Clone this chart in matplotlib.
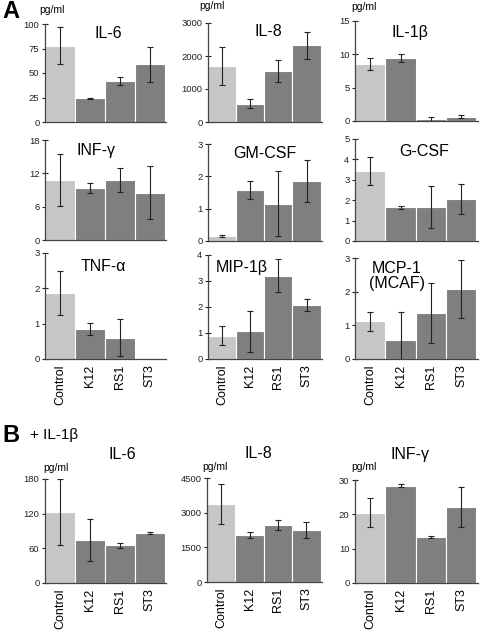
import numpy as np
import matplotlib
matplotlib.use("Agg")
import matplotlib.pyplot as plt

plt.rcParams['font.family'] = ['Liberation Sans', 'DejaVu Sans']
plt.rcParams['font.size'] = 7

groups = ["Control", "K12", "RS1", "ST3"]

# panel A values (mean, sd)
il6 = [78, 24, 42, 59]
il6_sd = [19, 1, 4, 18]
il8 = [1700, 560, 1550, 2320]
il8_sd = [570, 125, 325, 400]
il1b = [8.55, 9.4, 0.25, 0.65]
il1b_sd = [0.85, 0.6, 0.35, 0.25]
infg = [10.8, 9.4, 10.8, 8.5]
infg_sd = [4.6, 0.9, 2.1, 4.8]
gmcsf = [0.15, 1.58, 1.15, 1.86]
gmcsf_sd = [0.03, 0.27, 1.0, 0.64]
gcsf = [3.43, 1.65, 1.65, 2.05]
gcsf_sd = [0.67, 0.08, 1.03, 0.73]
tnfa = [1.87, 0.85, 0.6, 0.0]
tnfa_sd = [0.62, 0.18, 0.52, np.nan]  # no error bar shown for ST3
mip1b = [0.9, 1.06, 3.2, 2.07]
mip1b_sd = [0.37, 0.8, 0.63, 0.23]
mcp1 = [1.12, 0.56, 1.37, 2.09]
mcp1_sd = [0.28, 0.85, 0.88, 0.86]

# panel B values (+ IL-1beta)
b_il6 = [123, 74, 65, 86]
b_il6_sd = [57, 36, 4, 1.5]
b_il8 = [3375, 2050, 2470, 2250]
b_il8_sd = [875, 135, 230, 365]
b_infg = [20.5, 28.3, 13.4, 22.2]
b_infg_sd = [4.3, 0.45, 0.25, 5.9]

W, H = 480, 630
fig = plt.figure(figsize=(4.8, 6.3), dpi=100)
light, dark = '#c6c6c6', '#7f7f7f'


def panel(px, title, vals, sd, ymax, step, title_xy, xlabels=False, unit_xy=None):
    """px = (left, top, right, bottom) in pixels"""
    l, t, r, b = px
    ax = fig.add_axes([l / W, 1 - b / H, (r - l) / W, (b - t) / H])
    x = np.arange(len(vals))
    ax.bar(x, vals, width=1.0, color=[light] + [dark] * 3,
           edgecolor='white', linewidth=0.8, zorder=2)
    ax.errorbar(x, vals, yerr=sd, fmt='none', ecolor='#222222',
                elinewidth=0.8, capsize=2, capthick=0.8, zorder=3)
    ax.set_xlim(-0.5, 3.55)
    ax.set_ylim(0, ymax)
    ax.set_yticks(np.arange(0, ymax + step / 2, step))
    for s in ['top', 'right']:
        ax.spines[s].set_visible(False)
    for s in ['left', 'bottom']:
        ax.spines[s].set_color('#444444')
        ax.spines[s].set_linewidth(0.9)
    ax.tick_params(axis='y', direction='inout', length=4, width=0.8,
                   labelsize=6.8, pad=2, colors='#222222')
    if xlabels:
        ax.set_xticks(x)
        ax.set_xticklabels(groups, rotation=90, fontsize=9)
        ax.tick_params(axis='x', length=0, pad=4)
    else:
        ax.set_xticks([])
    ax.text(title_xy[0], title_xy[1], title, transform=ax.transAxes,
            ha='center', va='center', fontsize=11.5, linespacing=0.95)
    if unit_xy is not None:
        fig.text(unit_xy[0] / W, 1 - unit_xy[1] / H, 'pg/ml',
                 ha='center', va='center', fontsize=7.5)
    return ax


# panel A
panel((45, 24, 166, 122), 'IL-6', il6, il6_sd, 100, 25, (0.52, 0.9), unit_xy=(52, 10))
panel((208, 23, 322, 122), 'IL-8', il8, il8_sd, 3000, 1000, (0.53, 0.91), unit_xy=(212, 6))
panel((355, 21, 478, 121), 'IL-1β', il1b, il1b_sd, 15, 5, (0.45, 0.89), unit_xy=(364, 7))
panel((45, 140, 166, 240), 'INF-γ', infg, infg_sd, 18, 6, (0.42, 0.9))
panel((208, 144, 322, 241), 'GM-CSF', gmcsf, gmcsf_sd, 3, 1, (0.5, 0.9))
panel((355, 139, 478, 241), 'G-CSF', gcsf, gcsf_sd, 5, 1, (0.56, 0.88))
panel((45, 253, 166, 359), 'TNF-α', tnfa, tnfa_sd, 3, 1, (0.48, 0.87), xlabels=True)
panel((208, 255, 322, 359), 'MIP-1β', mip1b, mip1b_sd, 4, 1, (0.3, 0.88), xlabels=True)
panel((355, 258, 478, 359), 'MCP-1\n(MCAF)', mcp1, mcp1_sd, 3, 1, (0.34, 0.82), xlabels=True)

# panel B
panel((45, 479, 166, 583), 'IL-6', b_il6, b_il6_sd, 180, 60, (0.64, 1.24), xlabels=True, unit_xy=(56, 468))
panel((207, 478, 322, 582), 'IL-8', b_il8, b_il8_sd, 4500, 1500, (0.45, 1.24), xlabels=True, unit_xy=(215, 467))
panel((355, 480, 478, 583), 'INF-γ', b_infg, b_infg_sd, 30, 10, (0.45, 1.25), xlabels=True, unit_xy=(364, 467))

fig.text(2 / W, 1 - 12 / H, 'A', fontsize=17, fontweight='bold', va='center', ha='left')
fig.text(2 / W, 1 - 436 / H, 'B', fontsize=17, fontweight='bold', va='center', ha='left')
fig.text(30 / W, 1 - 435 / H, '+ IL-1β', fontsize=11, va='center', ha='left')

fig.savefig('out.png', dpi=100)
